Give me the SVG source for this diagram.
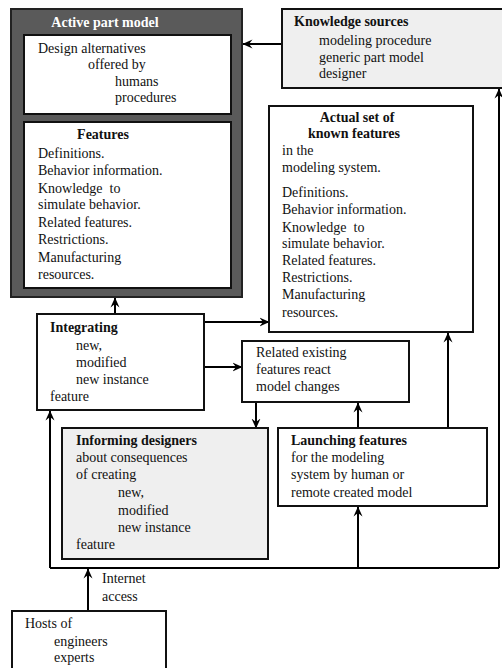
<svg xmlns="http://www.w3.org/2000/svg" width="502" height="668" viewBox="0 0 502 668">
  <defs>
    <marker id="arrow" viewBox="0 0 10 10" refX="9.5" refY="5" markerWidth="10" markerHeight="10" markerUnits="userSpaceOnUse" orient="auto">
      <path d="M0,0.5 L10,5 L0,9.5 L3.5,5 Z" fill="#000"/>
    </marker>
  </defs>
  <style>
    text { font-family: "Liberation Serif", "Times New Roman", serif; font-size: 14px; fill: #111; white-space: pre; }
    .b { font-weight: bold; }
    .box { fill: #fff; stroke: #111; stroke-width: 2; }
    .grey { fill: #efefef; stroke: #111; stroke-width: 2; }
    .dark { fill: #5a5a5a; stroke: #222; stroke-width: 2; }
    .conn { fill: none; stroke: #000; stroke-width: 2; }
    .arr { marker-end: url(#arrow); }
    .mid { text-anchor: middle; }
  </style>

  <!-- connectors -->
  <g id="connectors">
    <!-- knowledge sources -> active part model -->
    <line class="conn arr" x1="282" y1="44" x2="243" y2="44"/>
    <!-- integrating -> active part model -->
    <line class="conn arr" x1="115" y1="314" x2="115" y2="298"/>
    <!-- integrating -> actual set of known features -->
    <line class="conn arr" x1="204" y1="322" x2="269" y2="322"/>
    <!-- integrating -> related existing features -->
    <line class="conn arr" x1="204" y1="367" x2="242" y2="367"/>
    <!-- related existing features -> informing designers -->
    <line class="conn arr" x1="256" y1="402" x2="256" y2="428"/>
    <!-- launching -> related existing features -->
    <line class="conn arr" x1="358" y1="428" x2="358" y2="403"/>
    <!-- launching -> actual set of known features -->
    <line class="conn arr" x1="448" y1="428" x2="448" y2="333"/>
    <!-- bus loop: up to integrating, and up to knowledge sources -->
    <path class="conn" d="M50,568 L499,568"/>
    <line class="conn arr" x1="50" y1="568" x2="50" y2="411"/>
    <line class="conn arr" x1="499" y1="568" x2="499" y2="89"/>
    <!-- bus -> launching features -->
    <line class="conn arr" x1="358" y1="568" x2="358" y2="507"/>
    <!-- hosts -> bus (internet access) -->
    <line class="conn arr" x1="88" y1="611" x2="88" y2="569"/>
    <text x="102" y="583">Internet</text>
    <text x="102" y="601">access</text>
  </g>

  <!-- active part model -->
  <g id="active-part-model">
    <rect class="dark" x="11" y="9" width="231" height="288"/>
    <text class="b" x="105" y="27" text-anchor="middle" style="fill:#fff">Active part model</text>
    <rect class="box" x="24" y="35" width="207" height="79"/>
    <text x="38" y="53">Design alternatives</text>
    <text x="88" y="69">offered by</text>
    <text x="115" y="86">humans</text>
    <text x="115" y="102">procedures</text>
  </g>

  <g id="features">
    <rect class="box" x="24" y="122" width="207" height="166"/>
    <text class="b mid" x="103" y="139">Features</text>
    <text x="38" y="158">Definitions.</text>
    <text x="38" y="175">Behavior information.</text>
    <text x="38" y="193">Knowledge&#160; to</text>
    <text x="38" y="209">simulate behavior.</text>
    <text x="38" y="227">Related features.</text>
    <text x="38" y="244">Restrictions.</text>
    <text x="38" y="262">Manufacturing</text>
    <text x="38" y="279">resources.</text>
  </g>

  <!-- knowledge sources -->
  <g id="knowledge-sources">
    <rect class="grey" x="282" y="9" width="222" height="79"/>
    <text class="b" x="294" y="26">Knowledge sources</text>
    <text x="319" y="45">modeling procedure</text>
    <text x="319" y="62">generic part model</text>
    <text x="319" y="78">designer</text>
  </g>

  <!-- actual set of known features -->
  <g id="known-features">
    <rect class="box" x="269" y="106" width="204" height="226"/>
    <text class="b mid" x="357" y="122">Actual set of</text>
    <text class="b mid" x="354" y="138">known features</text>
    <text x="282" y="155">in the</text>
    <text x="282" y="172">modeling system.</text>
    <text x="282" y="197">Definitions.</text>
    <text x="282" y="214">Behavior information.</text>
    <text x="282" y="232">Knowledge&#160; to</text>
    <text x="282" y="248">simulate behavior.</text>
    <text x="282" y="265">Related features.</text>
    <text x="282" y="282">Restrictions.</text>
    <text x="282" y="299">Manufacturing</text>
    <text x="282" y="317">resources.</text>
  </g>

  <!-- integrating -->
  <g id="integrating">
    <rect class="box" x="37" y="314" width="167" height="96"/>
    <text class="b" x="50" y="332">Integrating</text>
    <text x="76" y="350">new,</text>
    <text x="76" y="367">modified</text>
    <text x="76" y="384">new instance</text>
    <text x="50" y="401">feature</text>
  </g>

  <!-- related existing features -->
  <g id="related-existing">
    <rect class="box" x="242" y="341" width="167" height="61"/>
    <text x="256" y="357">Related existing</text>
    <text x="256" y="374">features react</text>
    <text x="256" y="391">model changes</text>
  </g>

  <!-- informing designers -->
  <g id="informing-designers">
    <rect class="grey" x="62" y="428" width="206" height="131"/>
    <text class="b" x="76" y="445">Informing designers</text>
    <text x="76" y="462">about consequences</text>
    <text x="76" y="479">of creating</text>
    <text x="118" y="497">new,</text>
    <text x="118" y="515">modified</text>
    <text x="118" y="532">new instance</text>
    <text x="76" y="549">feature</text>
  </g>

  <!-- launching features -->
  <g id="launching-features">
    <rect class="box" x="278" y="428" width="209" height="78"/>
    <text class="b" x="291" y="445">Launching features</text>
    <text x="291" y="462">for the modeling</text>
    <text x="291" y="479">system by human or</text>
    <text x="291" y="497">remote created model</text>
  </g>

  <!-- hosts -->
  <g id="hosts">
    <rect class="box" x="12" y="611" width="154" height="70"/>
    <text x="25" y="628">Hosts of</text>
    <text x="54" y="646">engineers</text>
    <text x="54" y="662">experts</text>
  </g>
</svg>
